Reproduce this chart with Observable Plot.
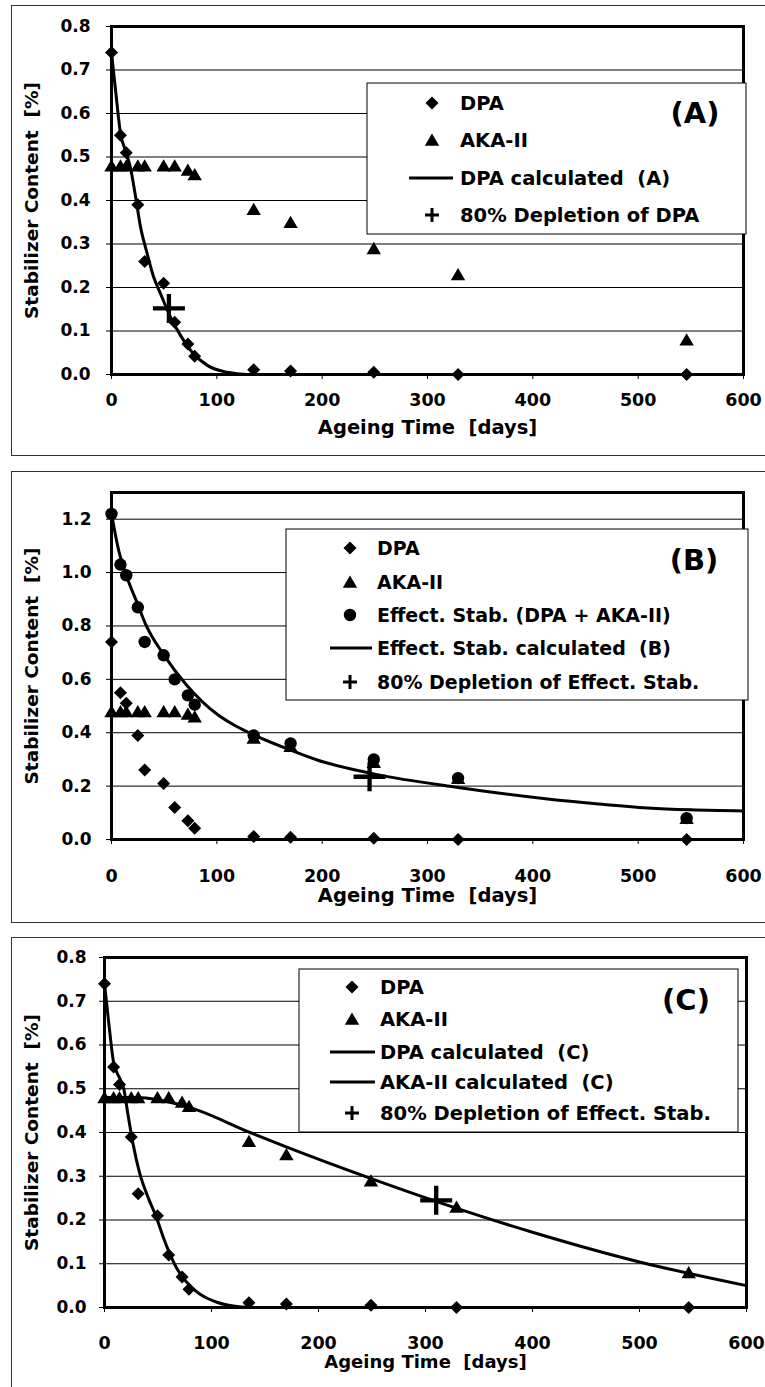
<!DOCTYPE html>
<html><head><meta charset="utf-8">
<script src="https://cdn.jsdelivr.net/npm/d3@7"></script>
<script src="https://cdn.jsdelivr.net/npm/@observablehq/plot@0.6"></script>
<style>
html,body{margin:0;padding:0;background:#fff;}
body{width:765px;height:1387px;position:relative;overflow:hidden;font-family:"DejaVu Sans",sans-serif;font-weight:bold;}
.panel{position:absolute;left:11px;width:760px;border:1.5px solid #333;border-right:none;box-sizing:border-box;}
.chart{position:absolute;left:0;}
</style></head><body>
<div class="panel" style="top:5px;height:451px"></div>
<div class="panel" style="top:471px;height:452px"></div>
<div class="panel" style="top:937px;height:500px"></div>
<div class="chart" id="pa" style="top:0px"></div>
<div class="chart" id="pb" style="top:460px"></div>
<div class="chart" id="pc" style="top:920px"></div>
<script>
// ---------- measured data ----------
const days    = [0, 8.5, 14, 25, 31.5, 49.5, 60, 72.5, 79, 135, 170, 249, 329, 546];
const dpa     = [0.74, 0.55, 0.51, 0.39, 0.26, 0.21, 0.12, 0.07, 0.042, 0.011, 0.008, 0.005, 0, 0];
const akaII   = [0.48, 0.48, 0.48, 0.48, 0.48, 0.48, 0.48, 0.47, 0.46, 0.38, 0.35, 0.29, 0.23, 0.08];
const effStab = [1.22, 1.03, 0.99, 0.87, 0.74, 0.69, 0.60, 0.54, 0.505, 0.39, 0.36, 0.30, 0.23, 0.08];
const akaIIC  = [0.48, 0.48, 0.48, 0.48, 0.48, 0.48, 0.48, 0.47, 0.46, 0.38, 0.35, 0.29, 0.23, 0.08];

// calculated curves
const dpaCalcADays = [0, 4, 8.5, 14, 18, 22.8, 27.5, 34, 40, 46.5, 56, 65.5, 76.6, 91, 110, 128, 600];
const dpaCalcAVals = [0.74, 0.65, 0.555, 0.51, 0.475, 0.41, 0.34, 0.277, 0.224, 0.186, 0.132, 0.09, 0.051, 0.021, 0.005, 0, 0];

const effCalcBDays = [0, 7, 14, 25, 32, 50, 71, 100, 118, 135, 170, 196, 250, 329, 414, 460, 509, 550, 600];
const effCalcBVals = [1.22, 1.08, 0.99, 0.88, 0.81, 0.69, 0.58, 0.47, 0.425, 0.392, 0.335, 0.297, 0.245, 0.195, 0.152, 0.134, 0.118, 0.111, 0.107];

const dpaCalcCDays = [0, 4, 8.5, 14, 18, 22, 27, 33, 41, 49, 55, 61, 67, 74, 82, 89, 97, 105, 116, 128, 140, 600];
const dpaCalcCVals = [0.74, 0.65, 0.56, 0.525, 0.50, 0.44, 0.37, 0.306, 0.25, 0.203, 0.16, 0.123, 0.092, 0.066, 0.045, 0.031, 0.02, 0.012, 0.005, 0.001, 0, 0];

const akaCalcCDays = [0, 30, 50, 83.5, 136, 171, 250, 330, 400, 500, 600];
const akaCalcCVals = [0.48, 0.48, 0.475, 0.454, 0.40, 0.366, 0.294, 0.226, 0.172, 0.104, 0.05];

const depletionA = {day: 54.5, value: 0.152};
const depletionB = {day: 245, value: 0.235};
const depletionC = {day: 310, value: 0.245};

const xTicks = [0, 100, 200, 300, 400, 500, 600];
const yTicksA = [0, 0.1, 0.2, 0.3, 0.4, 0.5, 0.6, 0.7, 0.8];
const yTicksB = [0, 0.2, 0.4, 0.6, 0.8, 1.0, 1.2];
const yTicksC = [0, 0.1, 0.2, 0.3, 0.4, 0.5, 0.6, 0.7, 0.8];

const NB = "\u00A0";
const xTitle = "Ageing Time" + NB + NB + "[days]";
const yTitle = "Stabilizer Content" + NB + NB + "[%]";
const legendA = ["DPA", "AKA-II", "DPA calculated" + NB + NB + "(A)", "80% Depletion of DPA"];
const legendB = ["DPA", "AKA-II", "Effect. Stab. (DPA + AKA-II)", "Effect. Stab. calculated" + NB + NB + "(B)", "80% Depletion of Effect. Stab."];
const legendC = ["DPA", "AKA-II", "DPA calculated" + NB + NB + "(C)", "AKA-II calculated" + NB + NB + "(C)", "80% Depletion of Effect. Stab."];

// ---------- symbols ----------
const symDiamond = {draw(c){c.moveTo(0,-6.5);c.lineTo(6.5,0);c.lineTo(0,6.5);c.lineTo(-6.5,0);c.closePath();}};
const symTriangle = {draw(c){c.moveTo(0,-6.5);c.lineTo(7.2,5.8);c.lineTo(-7.2,5.8);c.closePath();}};
const symCircle = {draw(c){c.moveTo(6.2,0);c.arc(0,0,6.2,0,2*Math.PI);c.closePath();}};
const symPlusBig = {draw(c){c.moveTo(-16,0);c.lineTo(16,0);c.moveTo(0,-14.5);c.lineTo(0,14.5);}};
const symPlusSmall = {draw(c){c.moveTo(-7,0);c.lineTo(7,0);c.moveTo(0,-7);c.lineTo(0,7);}};

const FONT = "DejaVu Sans, Liberation Sans, sans-serif";
const idx = d3.range(days.length);

function seriesDots(vals, sym) {
  return Plot.dot(idx, {x: i => days[i], y: i => vals[i], symbol: sym, fill: "#000", stroke: "none"});
}
function curve(dx, dy) {
  return Plot.line(d3.range(dx.length), {x: i => dx[i], y: i => dy[i], stroke: "#000", strokeWidth: 3, curve: "monotone-x"});
}
function cross(p) {
  return Plot.dot([p], {x: "day", y: "value", symbol: symPlusBig, fill: "none", stroke: "#000", strokeWidth: 4.3});
}

function makePlot(o) {
  return Plot.plot({
    width: 765, height: o.height,
    marginLeft: o.ml, marginRight: o.mr, marginTop: o.mt, marginBottom: o.mb,
    style: {fontFamily: FONT, fontWeight: "bold", fontSize: "17px", color: "#000", background: "transparent", overflow: "visible"},
    x: {domain: [0, 600]},
    y: {domain: [0, o.ymax]},
    marks: [
      Plot.gridY(o.yTicks, {stroke: "#000", strokeOpacity: 1, strokeWidth: 1}),
      Plot.axisX(xTicks, {tickSize: 5, tickPadding: o.xpad, label: null, fontSize: 17.5, stroke: "#000"}),
      Plot.axisY(o.yTicks, {tickSize: 5, tickPadding: o.ypad, label: null, tickFormat: d3.format(".1f"), fontSize: 17, stroke: "#000"}),
      Plot.text([xTitle], {text: d => d, frameAnchor: "bottom", dy: o.xtitle, fontSize: o.titleSize || 19.5, fill: "#000", textAnchor: "middle"}),
      Plot.text([yTitle], {text: d => d, frameAnchor: "left", dx: o.ytitle, rotate: -90, fontSize: 18.5, fill: "#000", textAnchor: "middle", lineAnchor: "middle"}),
      ...o.marks,
      Plot.frame({stroke: "#000", strokeWidth: 3})
    ]
  });
}

function addLegend(svg, L) {
  const g = d3.select(svg).append("g").attr("text-anchor", "start");
  g.append("rect").attr("x", L.x0).attr("y", L.y0).attr("width", L.x1 - L.x0).attr("height", L.y1 - L.y0)
    .attr("fill", "#fff").attr("stroke", "#000").attr("stroke-width", 1);
  L.labels.forEach((t, i) => {
    const y = L.ys[i], k = L.kinds[i];
    if (k === "line") {
      g.append("line").attr("x1", L.lx0).attr("x2", L.lx1).attr("y1", y).attr("y2", y).attr("stroke", "#000").attr("stroke-width", 3);
    } else {
      const sym = {diamond: symDiamond, triangle: symTriangle, circle: symCircle, plus: symPlusSmall}[k];
      const p = g.append("path").attr("transform", `translate(${L.mx},${y})`).attr("d", d3.symbol(sym)());
      if (k === "plus") p.attr("fill", "none").attr("stroke", "#000").attr("stroke-width", 3);
      else p.attr("fill", "#000");
    }
    g.append("text").attr("x", L.tx).attr("y", y).attr("dy", "0.36em").attr("font-size", L.fs)
      .attr("text-anchor", "start")
      .attr("font-family", FONT).attr("font-weight", "bold").attr("fill", "#000").text(t);
  });
  g.append("text").attr("x", L.tagX).attr("y", L.tagY).attr("dy", "0.36em").attr("text-anchor", "middle")
    .attr("font-size", 29).attr("font-family", FONT).attr("font-weight", "bold").attr("fill", "#000").text(L.tag);
}

// ---------- Panel A ----------
const plotA = makePlot({
  height: 460, ml: 111, mr: 22, mt: 26, mb: 86, ymax: 0.8, yTicks: yTicksA,
  xpad: 14, ypad: 16, xtitle: 59, ytitle: -79,
  marks: [
    curve(dpaCalcADays, dpaCalcAVals),
    seriesDots(akaII, symTriangle),
    seriesDots(dpa, symDiamond),
    cross(depletionA)
  ]
});
addLegend(plotA, {x0: 367, x1: 746, y0: 83, y1: 234, ys: [103, 140, 178, 215], mx: 432, tx: 460, lx0: 409, lx1: 453,
  fs: 19.5, labels: legendA, kinds: ["diamond", "triangle", "line", "plus"], tag: "(A)", tagX: 695, tagY: 113});
document.getElementById("pa").append(plotA);

// ---------- Panel B ----------
const plotB = makePlot({
  height: 460, ml: 111, mr: 22, mt: 32, mb: 81, ymax: 1.3, yTicks: yTicksB,
  xpad: 25, ypad: 15, xtitle: 62, ytitle: -79,
  marks: [
    curve(effCalcBDays, effCalcBVals),
    seriesDots(dpa, symDiamond),
    seriesDots(akaII, symTriangle),
    seriesDots(effStab, symCircle),
    cross(depletionB)
  ]
});
addLegend(plotB, {x0: 286, x1: 748, y0: 69, y1: 240, ys: [88, 122, 155, 188, 222], mx: 350, tx: 377, lx0: 330, lx1: 372,
  fs: 19, labels: legendB, kinds: ["diamond", "triangle", "circle", "line", "plus"], tag: "(B)", tagX: 694, tagY: 100});
document.getElementById("pb").append(plotB);

// ---------- Panel C ----------
const plotC = makePlot({
  height: 467, ml: 104, mr: 19, mt: 37, mb: 80, ymax: 0.8, yTicks: yTicksC,
  xpad: 24, ypad: 13, xtitle: 60, ytitle: -72, titleSize: 18,
  marks: [
    curve(dpaCalcCDays, dpaCalcCVals),
    curve(akaCalcCDays, akaCalcCVals),
    seriesDots(akaIIC, symTriangle),
    seriesDots(dpa, symDiamond),
    cross(depletionC)
  ]
});
addLegend(plotC, {x0: 299, x1: 738, y0: 49, y1: 212, ys: [67, 99, 132, 162, 193], mx: 352, tx: 380, lx0: 330, lx1: 375,
  fs: 19.5, labels: legendC, kinds: ["diamond", "triangle", "line", "line", "plus"], tag: "(C)", tagX: 686, tagY: 80});
document.getElementById("pc").append(plotC);
</script>
</body></html>
